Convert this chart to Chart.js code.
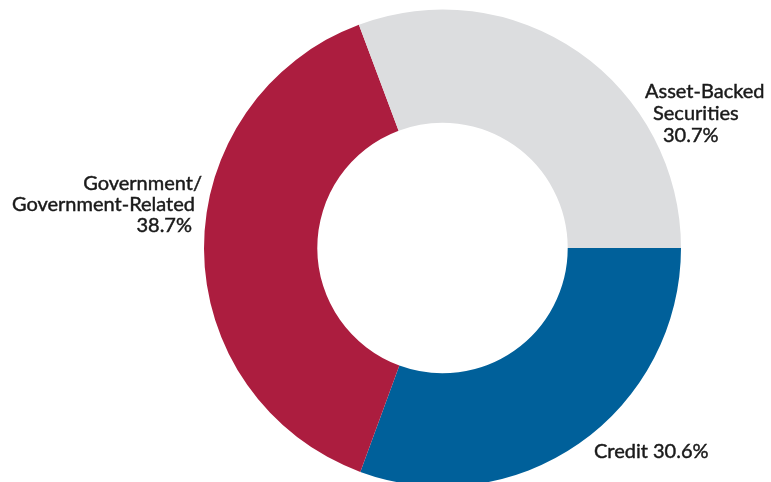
<!DOCTYPE html>
<html lang="en">
<head>
    <meta charset="UTF-8">
    <title>Sector Allocation</title>
    <script src="https://cdn.jsdelivr.net/npm/chart.js"></script>
    <style>
        html, body { margin: 0; padding: 0; background: #fff; overflow: hidden; }
        #wrap { width: 771px; height: 482px; overflow: hidden; }
    </style>
</head>
<body>
    <div id="wrap">
        <canvas id="donut" width="771" height="490"></canvas>
    </div>
    <script>
        // data, clockwise from 3 o'clock
        const categories = ['Credit', 'Government/Government-Related', 'Asset-Backed Securities'];
        const shares = [30.6, 38.7, 30.7];
        const colors = ['#00609a', '#ac1d3f', '#dcdddf'];

        // label lines per slice (text only)
        const labelLines = [
            ['Credit ' + shares[0].toFixed(1) + '%'],
            ['Government/', 'Government-Related', shares[1].toFixed(1) + '%'],
            ['Asset-Backed', 'Securities', shares[2].toFixed(1) + '%']
        ];

        // where each label line sits: [x, baseline y, align]
        const labelSpots = [
            [[594, 458, 'left']],
            [[202, 190, 'right'], [195, 211, 'right'], [192, 232, 'right']],
            [[645, 98, 'left'], [653, 120, 'left'], [663, 142, 'left']]
        ];

        const sliceLabels = {
            id: 'sliceLabels',
            afterDraw(chart) {
                const ctx = chart.ctx;
                ctx.save();
                ctx.fillStyle = '#1a1a1a';
                ctx.strokeStyle = '#1a1a1a';
                ctx.lineWidth = 0.45;
                ctx.font = '20px Lato, "Open Sans", sans-serif';
                ctx.textBaseline = 'alphabetic';
                labelLines.forEach((lines, i) => {
                    lines.forEach((txt, j) => {
                        const spot = labelSpots[i][j];
                        ctx.textAlign = spot[2];
                        ctx.fillText(txt, spot[0], spot[1]);
                        ctx.strokeText(txt, spot[0], spot[1]); // a bit heavier, like the original
                    });
                });
                ctx.restore();
            }
        };

        new Chart(document.getElementById('donut').getContext('2d'), {
            type: 'doughnut',
            data: {
                labels: categories,
                datasets: [{
                    data: shares,
                    backgroundColor: colors,
                    borderWidth: 0
                }]
            },
            options: {
                responsive: false,
                animation: false,
                rotation: 90,
                cutout: '52.5%',
                layout: { padding: { left: 204, right: 90, top: 9.5, bottom: 3.5 } },
                plugins: {
                    legend: { display: false },
                    tooltip: { enabled: false }
                }
            },
            plugins: [sliceLabels]
        });
    </script>
</body>
</html>
